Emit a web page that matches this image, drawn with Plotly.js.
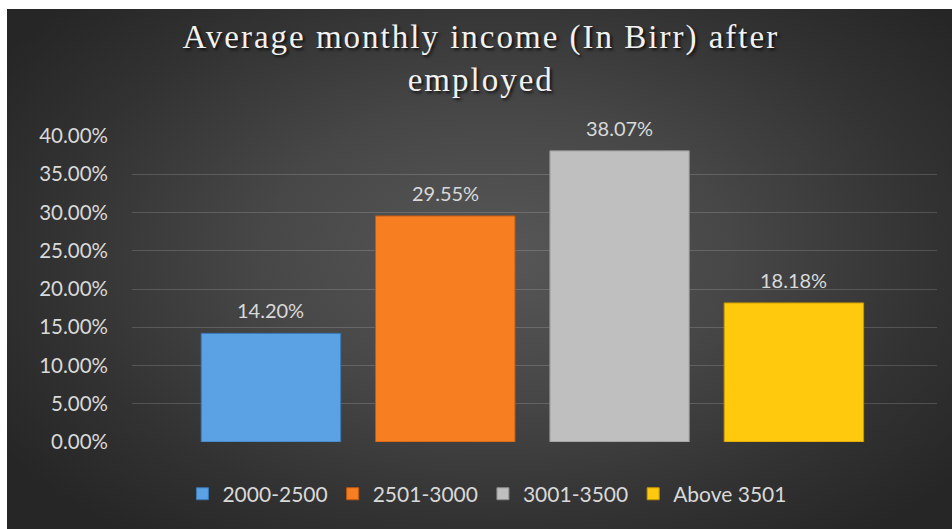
<!DOCTYPE html>
<html>
<head>
<meta charset="utf-8">
<script src="https://cdn.plot.ly/plotly-3.0.1.min.js"></script>
<style>
  html, body { margin: 0; padding: 0; background: #ffffff; }
  #chart {
    width: 952px; height: 529px;
    background:
      linear-gradient(#ffffff, #ffffff) top left / 100% 9px no-repeat,
      linear-gradient(#ffffff, #ffffff) top left / 7px 100% no-repeat,
      radial-gradient(ellipse 62% 68% at 52% 48%, #575757 0%, #474747 40%, #323232 75%, #262626 100%);
  }
  .gtitle { letter-spacing: 2px; }
</style>
</head>
<body>
<div id="chart"></div>
<script>
const titleText = "Average monthly income (In Birr) after<br>employed";
const categories = ["2000-2500", "2501-3000", "3001-3500", "Above 3501"];
const shares = [0.1420, 0.2955, 0.3807, 0.1818];
const colors = ["#5aa2e4", "#f77f22", "#bfbfbf", "#ffc90e"];
const edgeColors = ["#3b78b4", "#c25a10", "#8c8c8c", "#c79700"];
const yTicks = [0, 0.05, 0.10, 0.15, 0.20, 0.25, 0.30, 0.35, 0.40];

const textColor = "#d9d9d9";
const baseFont = "Lato, 'Open Sans', sans-serif";

const traces = categories.map((c, i) => ({
  type: "bar",
  name: c,
  x: [c],
  y: [shares[i]],
  width: 0.8,
  marker: { color: colors[i], line: { color: edgeColors[i], width: 1 } },
  hoverinfo: "skip"
}));

const annotations = categories.map((c, i) => ({
  x: c, y: shares[i], xref: "x", yref: "y",
  text: (shares[i] * 100).toFixed(2) + "%",
  showarrow: false, yanchor: "bottom", yshift: 9,
  font: { family: baseFont, size: 20, color: textColor }
}));

const layout = {
  width: 952, height: 529,
  paper_bgcolor: "rgba(0,0,0,0)",
  plot_bgcolor: "rgba(0,0,0,0)",
  margin: { l: 132, r: 15, t: 136, b: 87, pad: 0 },
  title: {
    text: titleText,
    font: { family: "'Liberation Serif', 'Times New Roman', serif", size: 33, color: "#f2f2f2",
            shadow: "2px 2px 3px rgba(0,0,0,0.75)" },
    x: 0.505, xref: "container", xanchor: "center",
    y: 0.909, yref: "container", yanchor: "middle"
  },
  barmode: "overlay",
  xaxis: {
    type: "category",
    categoryorder: "array", categoryarray: categories,
    range: [-0.797, 3.821],
    showticklabels: false, showgrid: false, zeroline: false, showline: false, ticks: ""
  },
  yaxis: {
    range: [0, 0.40],
    tickvals: yTicks,
    tickformat: ".2%",
    tickfont: { family: baseFont, size: 20.5, color: textColor },
    gridcolor: "rgba(255,255,255,0.16)", gridwidth: 1,
    zeroline: false, showline: false, ticks: "",
    ticklabelstandoff: 23
  },
  showlegend: true,
  legend: {
    orientation: "h",
    x: 0.512, xref: "container", xanchor: "center",
    y: 0.066, yref: "container", yanchor: "middle",
    font: { family: baseFont, size: 21, color: textColor },
    bgcolor: "rgba(0,0,0,0)",
    itemclick: false, itemdoubleclick: false
  },
  annotations: annotations
};

Plotly.newPlot("chart", traces, layout, { displayModeBar: false, staticPlot: true });
</script>
</body>
</html>
